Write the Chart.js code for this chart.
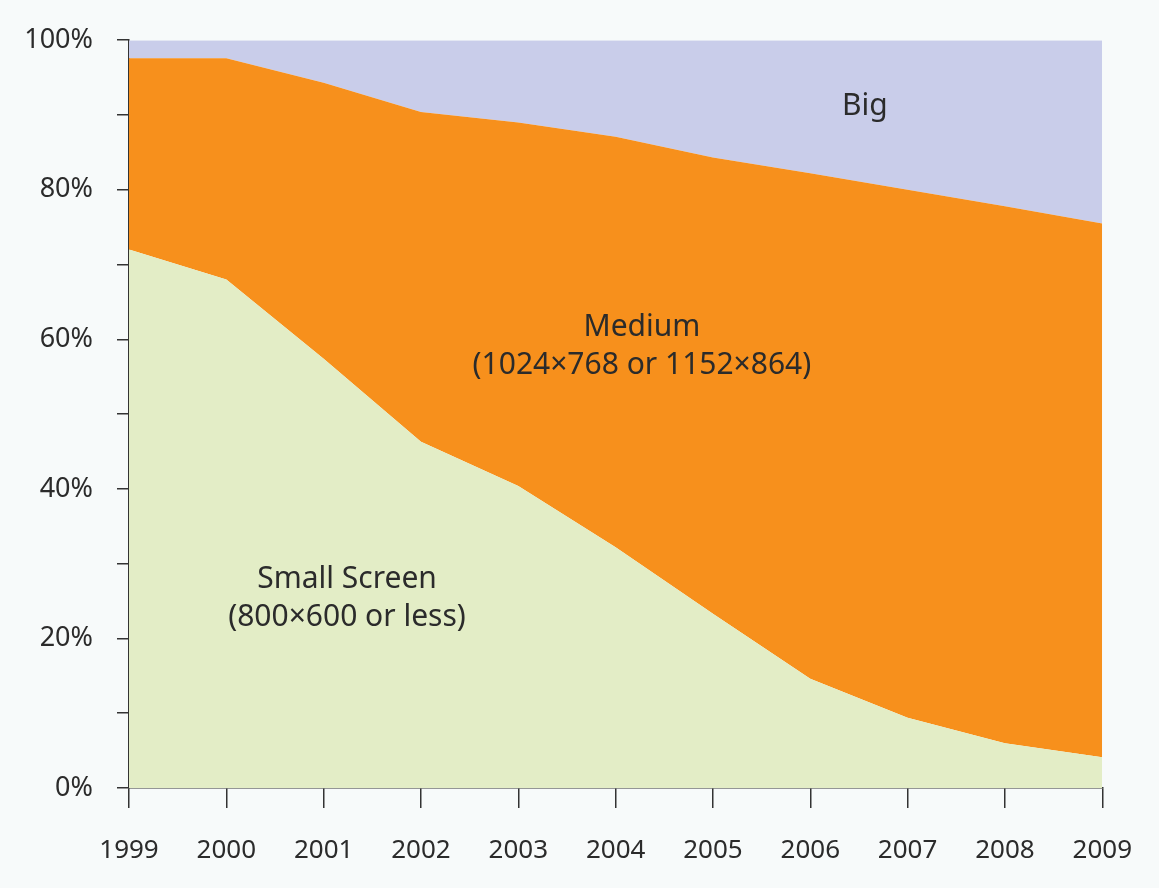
<!DOCTYPE html>
<html>
<head>
<meta charset="utf-8">
<script src="https://cdn.jsdelivr.net/npm/chart.js@4"></script>
<style>
  html, body { margin: 0; padding: 0; background: #f7fafa; }
  #wrap { width: 1159px; height: 888px; }
</style>
</head>
<body>
<div id="wrap"><canvas id="screenChart"></canvas></div>
<script>
// values (share of users, %)
const years = ['1999', '2000', '2001', '2002', '2003', '2004', '2005', '2006', '2007', '2008', '2009'];
const smallShare  = [72.0, 68.0, 57.4, 46.3, 40.4, 32.2, 23.3, 14.6, 9.4, 6.0, 4.1];
const mediumShare = [25.6, 29.6, 36.9, 44.1, 48.6, 54.9, 61.0, 67.6, 70.6, 71.8, 71.4];
const bigShare    = [2.4, 2.4, 5.7, 9.6, 11.0, 12.9, 15.7, 17.8, 20.0, 22.2, 24.5];
const yTicks = [0, 10, 20, 30, 40, 50, 60, 70, 80, 90, 100];

// area captions: [text lines, x (year index), y (%)]
const captions = [
  { lines: ['Big'], x: 7.56, y: 91.2 },
  { lines: ['Medium', '(1024×768 or 1152×864)'], x: 5.27, y: 59.0 },
  { lines: ['Small Screen', '(800×600 or less)'], x: 2.24, y: 25.3 }
];

const FONT = '"Noto Sans", "Open Sans", sans-serif';
const INK = '#2b2b2b';

const captionPlugin = {
  id: 'captions',
  afterDatasetsDraw(chart) {
    const { ctx, scales: { x, y } } = chart;
    ctx.save();
    ctx.fillStyle = INK;
    ctx.font = '30px ' + FONT;
    ctx.textAlign = 'center';
    ctx.textBaseline = 'middle';
    captions.forEach(c => {
      const px = x.getPixelForValue(c.x);
      const py = y.getPixelForValue(c.y);
      const lh = 38;
      const start = py - (c.lines.length - 1) * lh / 2;
      c.lines.forEach((line, i) => ctx.fillText(line, px, start + i * lh));
    });
    ctx.restore();
  }
};

const area = (label, data, color, fill) => ({
  label, data, fill,
  backgroundColor: color,
  borderColor: color,
  borderWidth: 0,
  pointRadius: 0,
  tension: 0
});

new Chart(document.getElementById('screenChart'), {
  type: 'line',
  data: {
    labels: years,
    datasets: [
      area('Small Screen', smallShare, '#e3edc6', 'origin'),
      area('Medium', mediumShare, '#f7901c', '-1'),
      area('Big', bigShare, '#c9cdea', '-1')
    ]
  },
  options: {
    responsive: true,
    maintainAspectRatio: false,
    animation: false,
    layout: { padding: { top: 34, right: 55, left: 0, bottom: 0 } },
    plugins: {
      legend: { display: false },
      tooltip: { enabled: false }
    },
    scales: {
      x: {
        offset: false,
        grid: { display: true, drawOnChartArea: false, drawTicks: true, tickLength: 20, tickColor: '#333', lineWidth: 1.5 },
        border: { display: true, color: '#333', width: 1.5 },
        ticks: { color: INK, font: { family: FONT, size: 26 }, padding: 27, maxRotation: 0 },
        afterFit(scale) { scale.height = 100; }
      },
      y: {
        stacked: true,
        min: 0,
        max: 100,
        afterBuildTicks(scale) { scale.ticks = yTicks.map(v => ({ value: v })); },
        grid: { display: true, drawOnChartArea: false, drawTicks: true, tickLength: 12, tickColor: '#333', lineWidth: 1.5 },
        border: { display: true, color: '#333', width: 1.5 },
        ticks: {
          color: INK,
          font: { family: FONT, size: 27 },
          padding: 24,
          callback: v => (v % 20 === 0 ? v + '%' : '')
        },
        afterFit(scale) { scale.width = 129; }
      }
    }
  },
  plugins: [captionPlugin]
});
</script>
</body>
</html>
